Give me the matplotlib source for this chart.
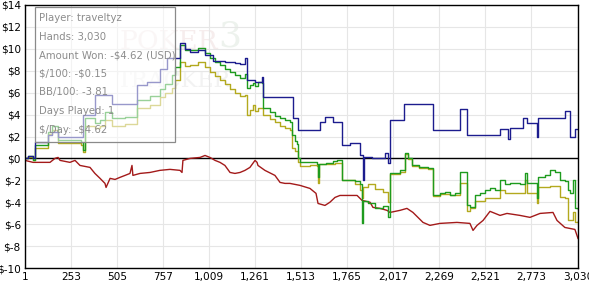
import matplotlib
matplotlib.use("Agg")
import matplotlib.pyplot as plt
from matplotlib.patches import Rectangle

# ---- data (hand number, cumulative $) ----
blue_h = [1, 20, 45, 56, 127, 150, 182, 319, 384, 477, 614, 670, 740, 778, 850, 877, 905, 949, 987,
          1031, 1096, 1151, 1179, 1206, 1217, 1261, 1300, 1307, 1469, 1496, 1617, 1644, 1688, 1737,
          1781, 1836, 1850, 1858, 1900, 1973, 1989, 2000, 2077, 2236, 2384, 2422, 2603, 2646, 2657,
          2728, 2750, 2805, 2811, 2958, 2986, 3013, 3030]
blue_v = [0.0, 0.25, 0.0, 1.46, 2.1, 2.4, 2.0, 3.92, 5.75, 5.0, 6.66, 7.0, 8.2, 9.2, 10.5, 10.0, 9.7,
          9.85, 9.4, 8.85, 8.76, 8.67, 8.6, 9.12, 7.12, 7.0, 7.4, 5.6, 3.65, 2.55, 3.3, 3.75, 3.3,
          1.19, 1.37, 0.3, -2.0, 0.1, 0.0, 0.45, -0.45, 3.5, 5.0, 2.55, 4.55, 2.1, 2.65, 1.8, 2.8,
          3.65, 3.2, 1.92, 3.65, 4.3, 1.92, 2.65, 2.65]

green_h = [1, 20, 45, 56, 127, 150, 182, 310, 319, 330, 384, 412, 439, 477, 549, 614, 686, 740, 768,
           806, 823, 850, 877, 905, 949, 987, 1014, 1042, 1069, 1096, 1124, 1151, 1179, 1206, 1217,
           1233, 1250, 1261, 1277, 1300, 1307, 1343, 1370, 1398, 1425, 1452, 1463, 1480, 1491, 1496,
           1507, 1562, 1600, 1606, 1612, 1650, 1688, 1710, 1737, 1809, 1836, 1847, 1852, 1880, 1918,
           1960, 1989, 2000, 2055, 2082, 2100, 2120, 2160, 2210, 2236, 2274, 2302, 2329, 2356, 2384,
           2411, 2422, 2438, 2466, 2493, 2521, 2548, 2575, 2603, 2630, 2657, 2712, 2739, 2750, 2794,
           2805, 2811, 2849, 2876, 2904, 2931, 2958, 2975, 2986, 3002, 3013, 3030]
green_v = [0.0, 0.2, -0.1, 1.19, 2.37, 3.0, 1.64, 1.5, 0.73, 3.65, 3.2, 3.5, 4.2, 3.65, 3.8, 5.3,
           5.66, 6.3, 6.75, 7.57, 8.3, 10.31, 9.85, 9.9, 10.04, 9.6, 9.12, 8.8, 8.49, 8.2, 7.85, 7.6,
           7.3, 7.66, 6.39, 6.7, 6.9, 6.6, 7.0, 6.9, 4.56, 4.2, 3.9, 3.7, 3.5, 3.28, 2.1, 1.6, 1.3,
           0.0, -0.36, -0.3, -0.5, -1.73, -0.5, -0.46, -0.2, -0.1, -2.01, -2.1, -2.3, -5.9, -3.9,
           -4.1, -4.5, -4.3, -5.38, -1.37, -1.1, 0.45, 0.0, -0.6, -0.8, -0.9, -3.38, -3.2, -3.1,
           -3.3, -3.2, -1.28, -1.2, -4.29, -4.47, -3.38, -3.2, -2.9, -2.74, -2.9, -2.01, -2.3, -2.2,
           -2.3, -1.37, -2.28, -2.2, -3.65, -1.73, -1.5, -1.1, -1.2, -2.01, -2.1, -2.9, -3.19,
           -2.01, -4.56, -4.62]

yellow_h = [1, 20, 45, 56, 127, 150, 182, 310, 319, 330, 384, 412, 439, 477, 549, 614, 686, 740, 768,
            806, 823, 850, 877, 905, 949, 987, 1014, 1042, 1069, 1096, 1124, 1151, 1179, 1206, 1217,
            1233, 1250, 1261, 1277, 1300, 1307, 1343, 1370, 1398, 1425, 1452, 1463, 1480, 1496,
            1507, 1562, 1600, 1606, 1612, 1650, 1700, 1737, 1809, 1836, 1847, 1852, 1880, 1918,
            1960, 1989, 2000, 2055, 2082, 2100, 2120, 2160, 2210, 2236, 2274, 2329, 2384, 2411,
            2422, 2438, 2466, 2521, 2575, 2603, 2630, 2712, 2739, 2750, 2805, 2811, 2876, 2931,
            2958, 2975, 3002, 3013, 3030]
yellow_v = [0.0, 0.15, -0.1, 0.91, 2.2, 2.6, 1.37, 1.2, 0.55, 3.0, 2.8, 3.0, 3.5, 3.0, 3.1, 4.56,
            4.9, 5.6, 6.0, 6.4, 7.12, 8.76, 8.4, 8.5, 8.76, 8.3, 7.85, 7.5, 7.12, 6.8, 6.3, 6.0,
            5.66, 5.8, 3.92, 4.4, 4.9, 4.3, 4.6, 4.56, 3.92, 3.6, 3.3, 3.0, 2.8, 2.55, 0.91, 0.7,
            -0.36, -0.7, -0.6, -0.65, -2.2, -0.5, -0.5, -0.45, -2.0, -2.3, -2.9, -3.65, -2.6, -2.3,
            -2.8, -3.1, -4.0, -1.45, -1.2, 0.4, -0.05, -0.65, -0.85, -0.95, -3.45, -3.25, -3.35,
            -2.2, -2.2, -4.8, -4.5, -3.9, -3.65, -3.6, -2.92, -3.19, -3.2, -2.01, -3.19, -4.11,
            -2.65, -2.55, -3.5, -3.6, -5.66, -4.93, -5.8, -5.7]

red_h = [1, 45, 138, 165, 182, 193, 247, 275, 302, 357, 384, 412, 439, 445, 467, 494, 521, 549, 576,
         587, 592, 631, 686, 740, 795, 850, 861, 866, 905, 960, 987, 1014, 1042, 1069, 1096, 1124,
         1151, 1179, 1206, 1233, 1261, 1272, 1277, 1315, 1370, 1398, 1425, 1452, 1507, 1562, 1595,
         1606, 1644, 1671, 1699, 1726, 1820, 1847, 1891, 1907, 1945, 1984, 2000, 2055, 2093, 2126,
         2181, 2219, 2274, 2367, 2438, 2455, 2477, 2510, 2548, 2603, 2641, 2712, 2767, 2822, 2893,
         2915, 2958, 3013, 3030]
red_v = [-0.18, -0.36, -0.36, 0.0, 0.09, -0.18, -0.36, -0.18, -0.64, -0.82, -1.37, -1.82, -2.28,
         -2.65, -1.82, -1.92, -1.73, -1.55, -1.37, -0.64, -1.55, -1.37, -1.28, -1.09, -1.0, -1.09,
         -1.28, -0.18, 0.0, 0.09, 0.27, 0.09, -0.18, -0.36, -0.64, -1.28, -1.37, -1.28, -1.09,
         -0.82, -0.18, -0.36, -0.64, -1.09, -1.55, -2.19, -2.28, -2.28, -2.46, -2.74, -3.19, -4.11,
         -4.29, -4.0, -3.56, -3.38, -3.38, -3.83, -4.0, -4.47, -4.56, -4.74, -4.93, -4.74, -4.56,
         -4.93, -5.84, -6.11, -5.93, -5.84, -5.93, -6.57, -6.11, -5.66, -4.83, -5.2, -5.02, -5.2,
         -5.38, -5.02, -4.93, -5.66, -6.3, -6.48, -7.3]

x_ticks = [1, 253, 505, 757, 1009, 1261, 1513, 1765, 2017, 2269, 2521, 2773, 3030]
x_labels = ["1", "253", "505", "757", "1,009", "1,261", "1,513", "1,765", "2,017", "2,269",
            "2,521", "2,773", "3,030"]
y_ticks = [14, 12, 10, 8, 6, 4, 2, 0, -2, -4, -6, -8, -10]
y_labels = ["$14", "$12", "$10", "$8", "$6", "$4", "$2", "$0", "$-2", "$-4", "$-6", "$-8", "$-10"]

info_lines = ["Player: traveltyz", "Hands: 3,030", "Amount Won: -$4.62 (USD)", "$/100: -$0.15",
              "BB/100: -3.81", "Days Played: 1", "$/Day: -$4.62"]

W, H = 589, 289
fig = plt.figure(figsize=(W / 100, H / 100), dpi=100)
ax = fig.add_axes([25 / W, 21 / H, (578 - 25) / W, (268 - 5) / H])

ax.set_xlim(1, 3030)
ax.set_ylim(-10, 14)
ax.set_xticks(x_ticks)
ax.set_xticklabels(x_labels)
ax.set_yticks(y_ticks)
ax.set_yticklabels(y_labels)
ax.tick_params(length=0, labelsize=7.6, pad=3, colors="black")
ax.grid(True, color="#e6e6e6", linewidth=0.8, zorder=0)
ax.set_axisbelow(True)
for s in ax.spines.values():
    s.set_color("black")
    s.set_linewidth(1.0)

# very faint watermark
ax.text(0.26, 0.86, "POKER", transform=ax.transAxes, fontsize=19, family="DejaVu Serif",
        color="#f6eded", ha="center", va="center", zorder=0.5)
ax.text(0.37, 0.88, "3", transform=ax.transAxes, fontsize=26, family="DejaVu Serif",
        color="#edf2ed", ha="center", va="center", zorder=0.5)
ax.text(0.27, 0.71, "TRACKER", transform=ax.transAxes, fontsize=16, family="DejaVu Serif",
        color="#f2f2f2", ha="center", va="center", zorder=0.5)

ax.axhline(0, color="black", linewidth=1.0, zorder=1.5)

lw = 1.0
ax.plot(red_h, red_v, color="#a31a1a", linewidth=lw, zorder=2)
ax.plot(yellow_h, yellow_v, color="#b3a91e", linewidth=lw, drawstyle="steps-post", zorder=2.1)
ax.plot(green_h, green_v, color="#1e9b1e", linewidth=lw, drawstyle="steps-post", zorder=2.2)
ax.plot(blue_h, blue_v, color="#1c1c8e", linewidth=lw, drawstyle="steps-post", zorder=2.3)

# info box (pixel coordinates in the figure)
box = Rectangle((35 / W, 1 - 142 / H), (175 - 35) / W, (142 - 7) / H, transform=fig.transFigure,
                facecolor="white", alpha=0.55, edgecolor="none", zorder=5)
fig.patches.append(box)
border = Rectangle((35 / W, 1 - 142 / H), (175 - 35) / W, (142 - 7) / H, transform=fig.transFigure,
                   facecolor="none", edgecolor="#8a8a8a", linewidth=0.9, zorder=6)
fig.patches.append(border)
for i, line in enumerate(info_lines):
    ypix = 18 + i * 18.6
    fig.text(39 / W, 1 - ypix / H, line, fontsize=7.3, color="#8c8c8c", ha="left", va="center",
             zorder=7, parse_math=False)

fig.savefig("out.png", dpi=100)
